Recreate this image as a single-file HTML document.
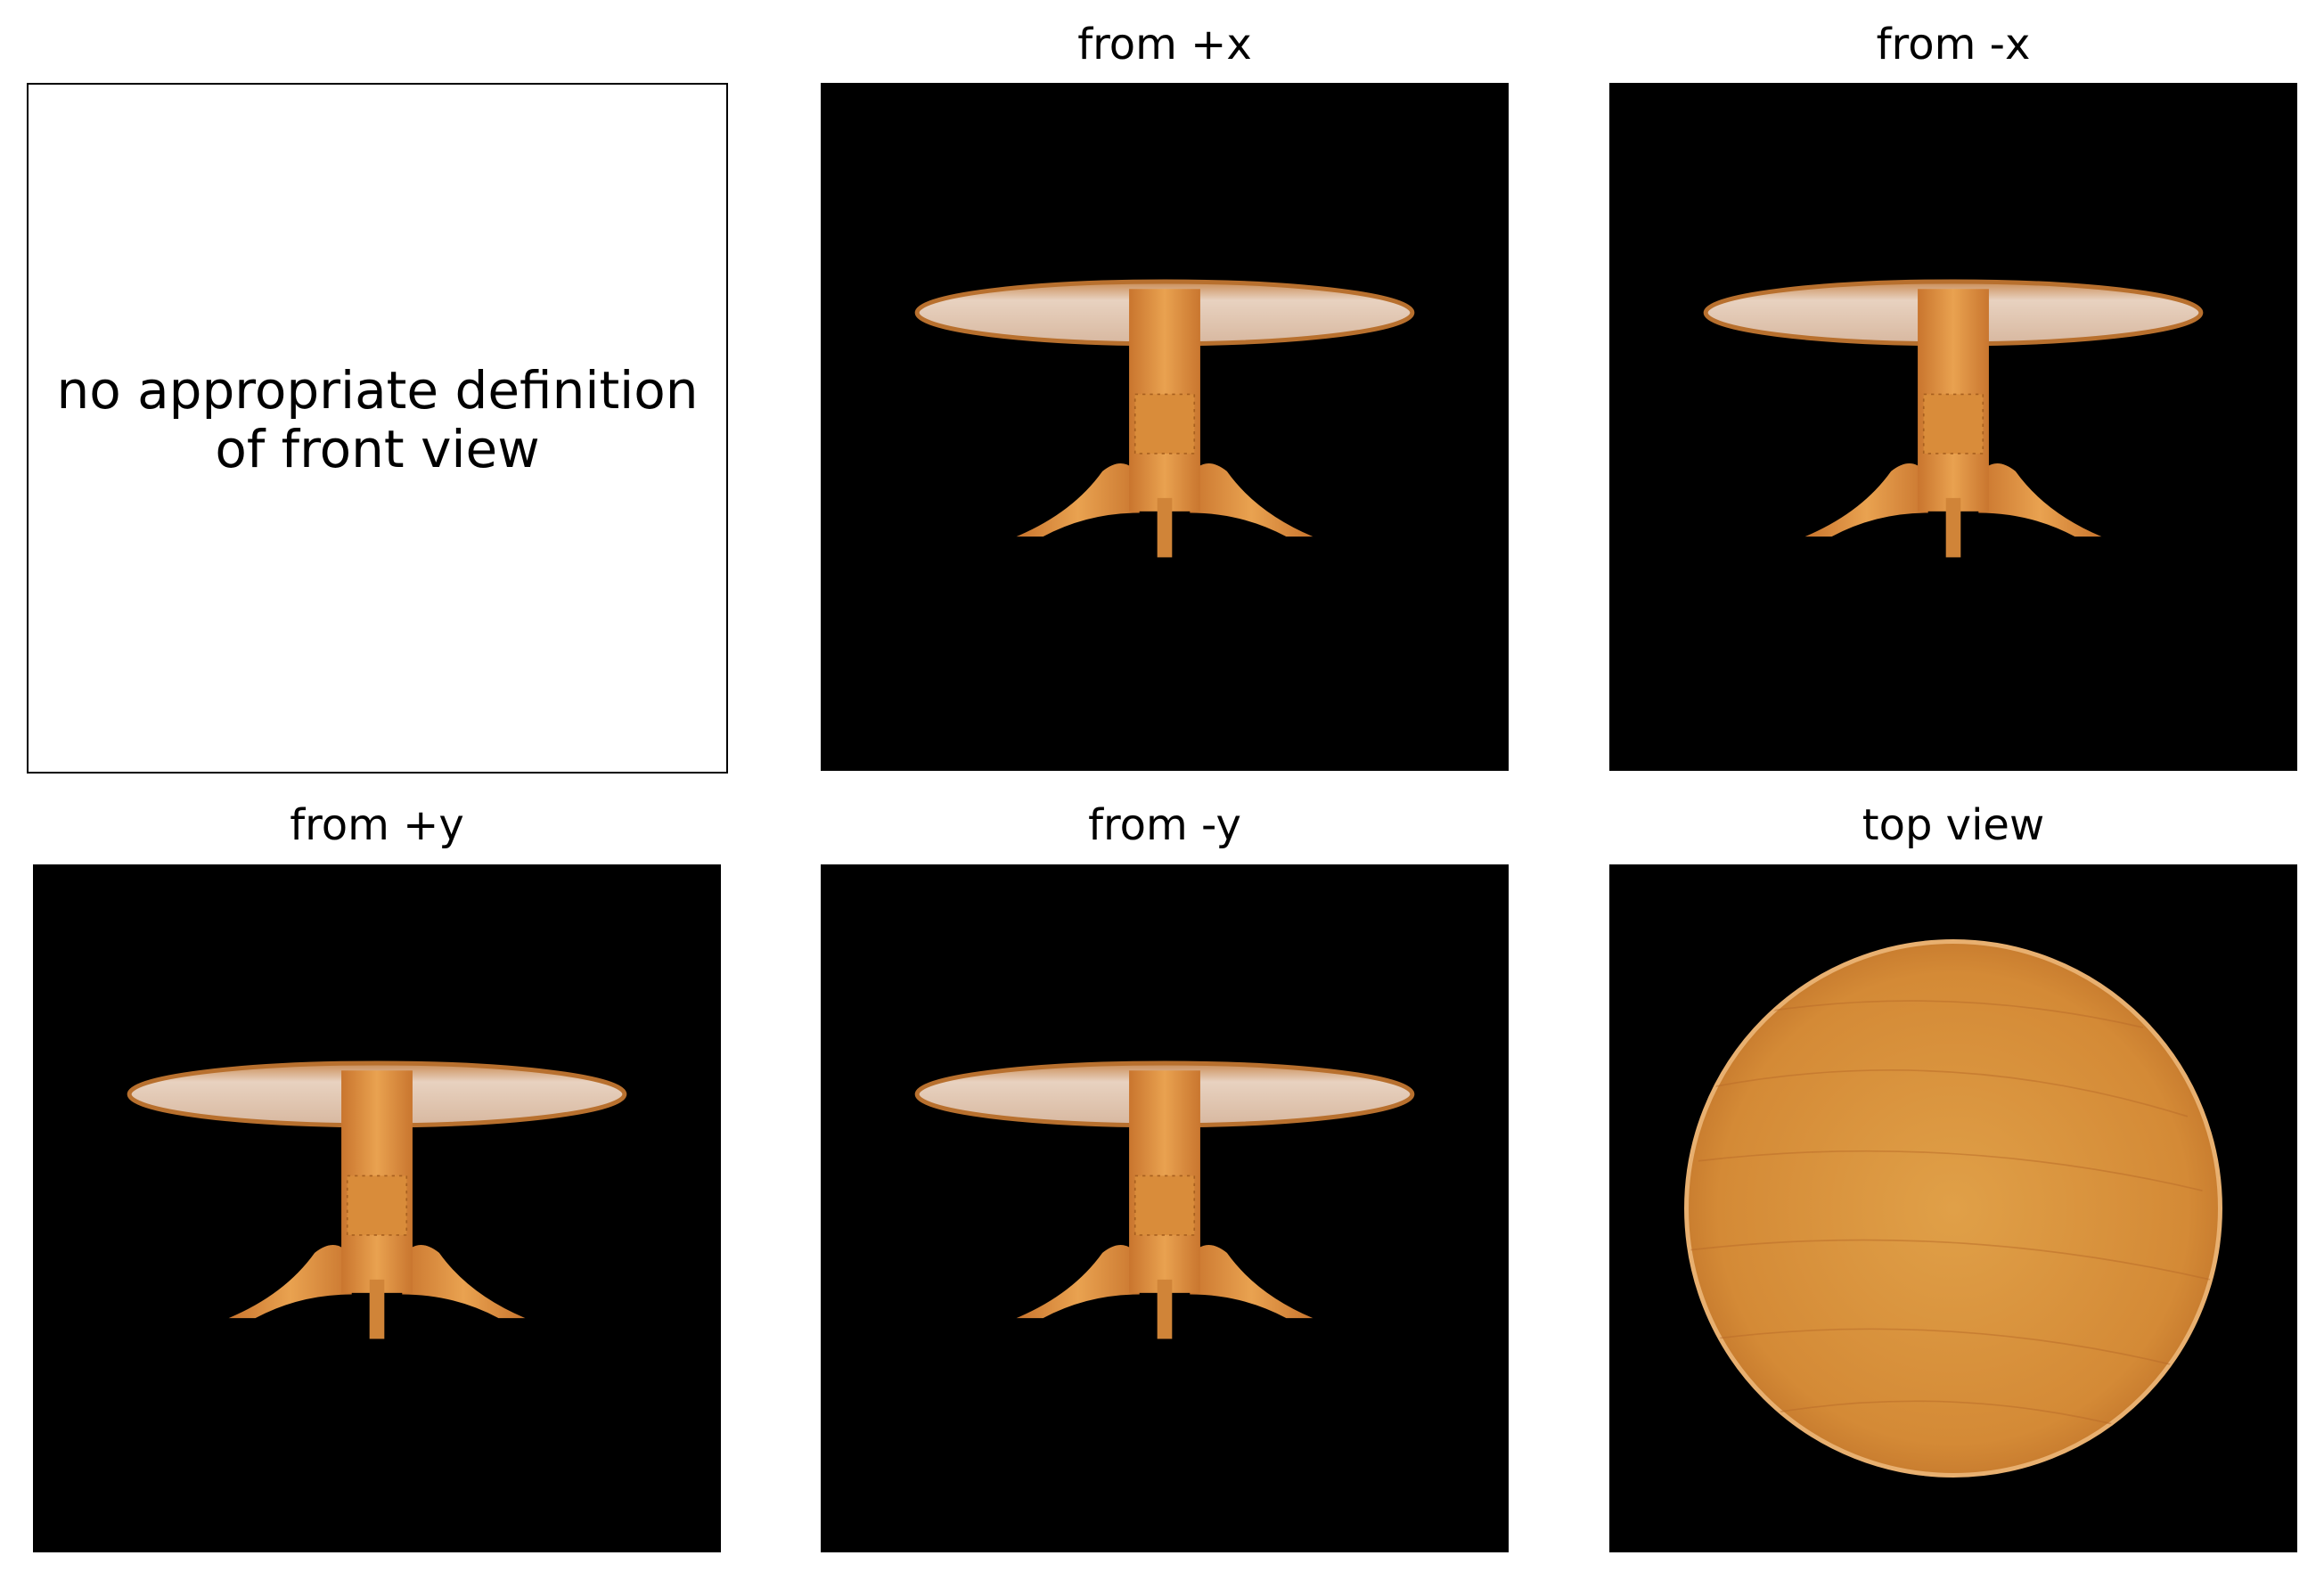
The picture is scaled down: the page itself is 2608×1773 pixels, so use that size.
<!DOCTYPE html>
<html><head><meta charset="utf-8"><style>
body{margin:0;width:2608px;height:1773px;background:#fff;position:relative;overflow:hidden;font-family:"Liberation Sans","DejaVu Sans",sans-serif}
.p{position:absolute;width:772px;height:772px;background:#000}
.t{position:absolute;width:772px;text-align:center;font-size:48px;color:#000;font-family:"DejaVu Sans","Liberation Sans",sans-serif}
svg{display:block}
</style></head><body>
<svg width="0" height="0" style="position:absolute"><defs>
<linearGradient id="wood" x1="0" y1="0" x2="1" y2="0"><stop offset="0" stop-color="#c9752e"/><stop offset=".5" stop-color="#e9a250"/><stop offset="1" stop-color="#c9762f"/></linearGradient>
<linearGradient id="topg" x1="0" y1="0" x2="0" y2="1"><stop offset="0" stop-color="#c98a52"/><stop offset=".3" stop-color="#e8d2c0"/><stop offset="1" stop-color="#d8b8a0"/></linearGradient>
<radialGradient id="disc" cx=".5" cy=".5" r=".55"><stop offset="0" stop-color="#e0a048"/><stop offset=".8" stop-color="#d48a36"/><stop offset="1" stop-color="#c0732a"/></radialGradient>
<clipPath id="cc"><circle cx="232" cy="232" r="180"/></clipPath>
<g id="table">
<ellipse cx="232" cy="155" rx="167" ry="21" fill="url(#topg)" stroke="#b8702e" stroke-width="3"/>
<path d="M132 306 Q170 290 190 262 Q205 250 215 265 L215 290 Q180 290 150 306 Z" fill="url(#wood)"/>
<path d="M332 306 Q294 290 274 262 Q259 250 249 265 L249 290 Q284 290 314 306 Z" fill="url(#wood)"/>
<rect x="208" y="139" width="48" height="150" fill="url(#wood)"/>
<rect x="212" y="210" width="40" height="40" fill="#d98c3a" stroke="#a8601f" stroke-dasharray="2 3"/>
<rect x="227" y="280" width="10" height="40" fill="#d08438"/>
</g></defs></svg>

<div style="position:absolute;left:30px;top:93px;width:783px;height:771px;border:2px solid #000;background:#fff"></div>
<div style="position:absolute;left:30px;top:405px;width:787px;text-align:center;font-size:58px;line-height:66px;font-family:'DejaVu Sans','Liberation Sans',sans-serif">no appropriate definition<br>of front view</div>

<div class="t" style="left:921px;top:22px">from +x</div>
<div class="p" style="left:921px;top:93px"><svg width="772" height="772" viewBox="0 0 464 464"><use href="#table"/></svg></div>

<div class="t" style="left:1806px;top:22px">from -x</div>
<div class="p" style="left:1806px;top:93px"><svg width="772" height="772" viewBox="0 0 464 464"><use href="#table"/></svg></div>

<div class="t" style="left:37px;top:898px">from +y</div>
<div class="p" style="left:37px;top:970px"><svg width="772" height="772" viewBox="0 0 464 464"><use href="#table"/></svg></div>

<div class="t" style="left:921px;top:898px">from -y</div>
<div class="p" style="left:921px;top:970px"><svg width="772" height="772" viewBox="0 0 464 464"><use href="#table"/></svg></div>

<div class="t" style="left:1806px;top:898px">top view</div>
<div class="p" style="left:1806px;top:970px"><svg width="772" height="772" viewBox="0 0 464 464">
<circle cx="232" cy="232" r="180" fill="url(#disc)" stroke="#e8b070" stroke-width="3"/>
<g stroke="#b86a28" stroke-width="1" opacity=".5" fill="none" clip-path="url(#cc)">
<path d="M70 150 Q230 120 390 170"/><path d="M60 200 Q230 180 400 220"/><path d="M55 260 Q230 240 405 280"/><path d="M70 320 Q230 300 390 340"/><path d="M100 100 Q230 80 360 110"/><path d="M110 370 Q230 350 350 380"/>
</g></svg></div>
</body></html>
